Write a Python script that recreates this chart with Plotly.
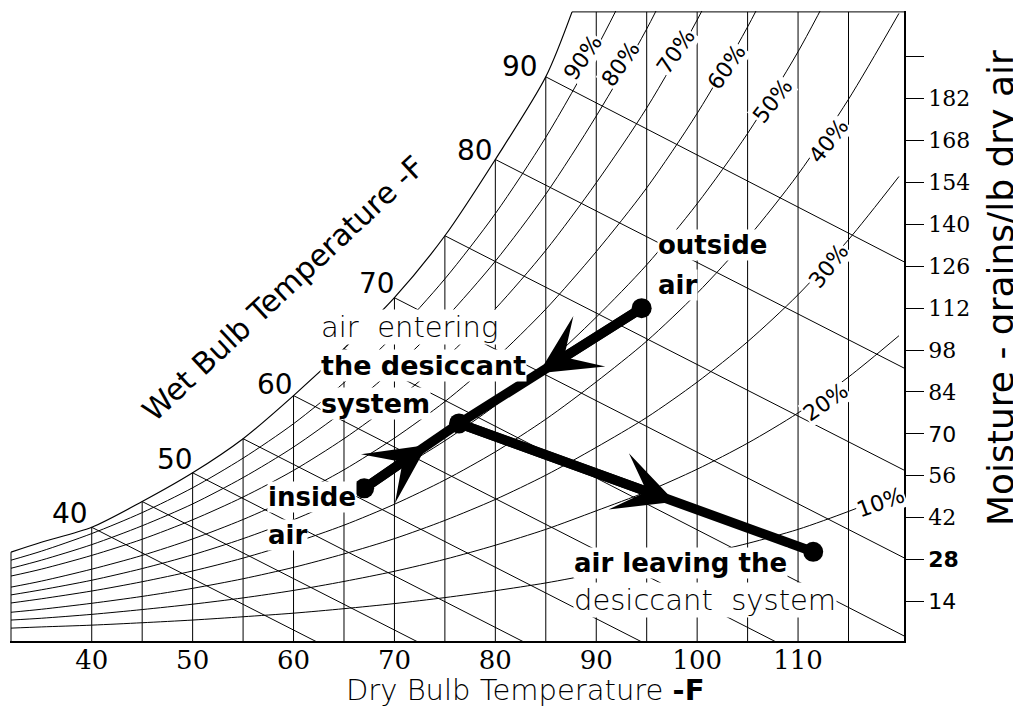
import plotly.graph_objects as go

# ---------------- data ----------------
# dry-bulb temperatures (F) at which the relative-humidity curves were read
DB_T = [32, 35, 40, 45, 50, 55, 60, 65, 70, 75, 80, 85, 90, 95, 100, 105, 110, 115, 120]

RH_LABELS = ["10%", "20%", "30%", "40%", "50%", "60%", "70%", "80%", "90%"]
RH_10 = [5.1, 5.5, 6.1, 6.9, 7.8, 8.9, 10.1, 11.6, 13.3, 15.3, 17.6, 20.2, 23.3, 26.1, 29.4, 33.4, 38.1, 44.1, 50.8]
RH_20 = [7.8, 8.4, 9.7, 11.3, 13.1, 15.2, 17.7, 20.7, 24.1, 28.1, 32.8, 38.1, 44.3, 50.7, 58.2, 66.9, 77.0, 89.0, 102.8]
RH_30 = [10.4, 11.4, 13.4, 15.7, 18.4, 21.6, 25.4, 29.9, 35.0, 41.1, 48.1, 56.2, 65.5, 75.5, 87.3, 100.8, 116.5, 134.9, 156.0]
RH_40 = [13.5, 14.9, 17.5, 20.6, 24.2, 28.5, 33.6, 39.5, 46.5, 54.6, 64.0, 74.9, 87.4, 101.0, 117.0, 135.4, 156.7, 181.8, 210.5]
RH_50 = [16.2, 17.9, 21.1, 25.0, 29.6, 35.0, 41.3, 48.8, 57.5, 67.7, 79.5, 93.2, 109.0, 126.5, 146.9, 170.4, 197.7, 229.6]
RH_60 = [18.8, 20.8, 24.8, 29.4, 34.9, 41.4, 49.0, 58.0, 68.6, 80.8, 95.1, 111.7, 130.9, 152.2, 177.1, 206.0, 239.4]
RH_70 = [22.5, 24.8, 29.4, 34.8, 41.3, 48.9, 57.8, 68.4, 80.7, 95.1, 111.8, 131.3, 153.9, 178.9, 208.3, 242.3]
RH_80 = [25.1, 27.8, 33.0, 39.3, 46.6, 55.4, 65.6, 77.7, 91.9, 108.4, 127.7, 150.1, 176.2, 205.3, 239.4]
RH_90 = [27.8, 30.8, 36.7, 43.7, 52.0, 61.9, 73.4, 87.1, 103.1, 121.8, 143.6, 169.1, 198.7, 231.9]
RH_SERIES = [RH_10, RH_20, RH_30, RH_40, RH_50, RH_60, RH_70, RH_80, RH_90]

# saturation (100%) curve
SAT_T = [32, 35, 40, 45, 50, 55, 60, 65, 70, 75, 80, 85, 87.6]
SAT_W = [30.5, 33.8, 38.8, 47.4, 57.0, 68.4, 82.8, 98.5, 115.5, 136.2, 161.7, 189.3, 211.0]

# wet-bulb lines: start on saturation, end on chart border
WB_T = [40, 45, 50, 55, 60, 65, 70, 75, 80, 85]
WB_START_W = [38.8, 47.4, 57.0, 68.4, 82.8, 98.5, 115.5, 136.2, 161.7, 189.3]
WB_END_T = [62.6, 72.6, 83.1, 94.8, 108.1, 120.5, 120.5, 120.5, 120.5, 120.5]
WB_END_W = [0.0, 0.0, 0.0, 0.0, 0.0, 2.5, 28.6, 57.9, 92.0, 127.5]
WB_LABELS = ["40", "50", "60", "70", "80", "90"]

# dry-bulb vertical lines and where they stop at the top
DB_LINE_T = [40, 45, 50, 55, 60, 65, 70, 75, 80, 85, 90, 95, 100, 105, 110, 115]
DB_LINE_TOP = [38.8, 47.4, 57.0, 68.4, 82.8, 98.5, 115.5, 136.2, 161.7, 189.3,
               211.0, 211.0, 211.0, 211.0, 211.0, 211.0]

# chart frame pieces not covered by the axes
LEFT_EDGE_T = [32, 32]
LEFT_EDGE_W = [0.0, 30.5]
TOP_EDGE_T = [87.6, 120.5]
TOP_EDGE_W = [211.0, 211.0]

# process states (dry bulb F, grains/lb)
STATE_NAMES = ["outside air", "entering desiccant", "inside air", "leaving desiccant"]
STATE_T = [94.5, 76.4, 67.0, 111.5]
STATE_W = [112.0, 73.5, 51.8, 30.6]
# arrow tips on the three process lines
ARROW_TIP_T = [84.3, 73.25, 97.8]
ARROW_TIP_W = [90.3, 66.3, 47.3]

X_TICKS = [40, 50, 60, 70, 80, 90, 100, 110]
Y_TICKS = [14, 28, 42, 56, 70, 84, 98, 112, 126, 140, 154, 168, 182, 196]
Y_TICK_TEXT = ["14", "28", "42", "56", "70", "84", "98", "112", "126", "140", "154", "168", "182", ""]

# ---------------- figure ----------------
PAGE_OFF = 8                      # default body margin of the html page
W_PX, H_PX = 1021 - PAGE_OFF, 713 - PAGE_OFF
ML, MR, MT, MB = 2, 117, 3, 72
PW, PH = W_PX - ML - MR, H_PX - MT - MB


def px(x):   # page pixel -> paper x
    return (x - PAGE_OFF - ML) / PW


def py(y):   # page pixel -> paper y
    return (PAGE_OFF + H_PX - MB - y) / PH


LINE = dict(color="black", width=1)
fig = go.Figure()

# relative humidity curves
for name, vals in zip(RH_LABELS, RH_SERIES):
    fig.add_trace(go.Scatter(x=DB_T[:len(vals)], y=vals, mode="lines", name=name,
                             line=dict(color="black", width=1, shape="spline", smoothing=0.8),
                             hoverinfo="skip", showlegend=False))

# saturation curve
fig.add_trace(go.Scatter(x=SAT_T, y=SAT_W, mode="lines", line=dict(color="black", width=1.2, shape="spline", smoothing=0.8),
                         hoverinfo="skip", showlegend=False))

# wet bulb lines
wx, wy = [], []
for t0, w0, t1, w1 in zip(WB_T, WB_START_W, WB_END_T, WB_END_W):
    wx += [t0, t1, None]
    wy += [w0, w1, None]
fig.add_trace(go.Scatter(x=wx, y=wy, mode="lines", line=LINE, hoverinfo="skip", showlegend=False))

# dry bulb verticals
vx, vy = [], []
for t, top in zip(DB_LINE_T, DB_LINE_TOP):
    vx += [t, t, None]
    vy += [0.0, top, None]
fig.add_trace(go.Scatter(x=vx, y=vy, mode="lines", line=LINE, hoverinfo="skip", showlegend=False))

# frame pieces
fig.add_trace(go.Scatter(x=LEFT_EDGE_T, y=LEFT_EDGE_W, mode="lines", line=LINE, hoverinfo="skip", showlegend=False))
fig.add_trace(go.Scatter(x=TOP_EDGE_T, y=TOP_EDGE_W, mode="lines", line=LINE, hoverinfo="skip", showlegend=False))

# process lines
seq_a = [0, 1, 3]
fig.add_trace(go.Scatter(x=[STATE_T[i] for i in seq_a], y=[STATE_W[i] for i in seq_a], mode="lines",
                         line=dict(color="black", width=9.5), hoverinfo="skip", showlegend=False))
seq_b = [2, 1]
fig.add_trace(go.Scatter(x=[STATE_T[i] for i in seq_b], y=[STATE_W[i] for i in seq_b], mode="lines",
                         line=dict(color="black", width=9.5), hoverinfo="skip", showlegend=False))
fig.add_trace(go.Scatter(x=STATE_T, y=STATE_W, mode="markers", text=STATE_NAMES,
                         marker=dict(color="black", size=20), hoverinfo="text", showlegend=False))

ann = []
SANS = "DejaVu Sans"


def label(text, x, y, size=29, angle=0, xanchor="center", yanchor="middle", bg="white",
          family=SANS, weight="normal"):
    ann.append(dict(text=text, x=px(x), y=py(y), xref="paper", yref="paper", showarrow=False,
                    textangle=angle, xanchor=xanchor, yanchor=yanchor,
                    font=dict(family=family, size=size, color="black", weight=weight),
                    bgcolor=bg, borderpad=0))


# wet bulb temperature labels
for txt, (x, y) in zip(WB_LABELS, [(70, 513), (175, 459), (275, 384), (377, 283), (475, 150), (520, 66)]):
    label(txt, x, y, size=28, bg=None)

# RH labels
rh_pos = [(880, 502, -20), (825, 402, -35), (828, 266, -52), (828, 141, -52), (772, 101, -52),
          (726, 67, -55), (676, 52, -55), (620, 64, -55), (583, 58, -55)]
for txt, (x, y, a) in zip(RH_LABELS, rh_pos):
    label(txt, x, y, size=22, angle=a)

# titles
label("Wet Bulb Temperature -F", 283, 288, size=30, angle=-43, bg=None)
label("Dry Bulb Temperature <b>-F</b>", 525, 690, size=29, bg=None, weight=300)
label("Moisture - grains/lb dry air", 1000, 288, size=36, angle=-90, bg=None)

# state annotations
label("outside", 657, 245, size=26, xanchor="left", weight="bold")
label("air", 657, 285, size=26, xanchor="left", weight="bold")
label("air  entering", 320, 327, xanchor="left", weight=200)
label("the desiccant", 320, 365, size=27, xanchor="left", weight="bold")
label("system", 320, 403, size=27, xanchor="left", weight="bold")
label("inside", 267, 497, size=26, xanchor="left", weight="bold")
label("air", 267, 535, size=26, xanchor="left", weight="bold")
label("air leaving the", 573, 563, size=26, xanchor="left", weight="bold")
label("desiccant  system", 573, 600, xanchor="left", weight=200)

# arrow heads on the process lines
tails = [0, 2, 1]
for k, tail in enumerate(tails):
    ann.append(dict(x=ARROW_TIP_T[k], y=ARROW_TIP_W[k], xref="x", yref="y",
                    ax=STATE_T[tail], ay=STATE_W[tail], axref="x", ayref="y",
                    text="", showarrow=True, arrowhead=3, arrowsize=1.05, arrowwidth=9.5,
                    arrowcolor="black"))

SERIF = "DejaVu Serif"
ytext = []
for t in Y_TICK_TEXT:
    if t in ("70", "14"):
        ytext.append('<span style="font-family:DejaVu Sans">' + t + "</span>")
    elif t == "28":
        ytext.append('<span style="font-family:DejaVu Sans"><b>' + t + "</b></span>")
    else:
        ytext.append(t)

fig.update_layout(
    width=W_PX, height=H_PX,
    margin=dict(l=ML, r=MR, t=MT, b=MB, pad=0),
    paper_bgcolor="white", plot_bgcolor="white",
    showlegend=False,
    annotations=ann,
    xaxis=dict(range=[31.9, 120.5], tickvals=X_TICKS, ticks="", showgrid=False, zeroline=False,
               showline=True, linecolor="black", linewidth=1.5,
               tickfont=dict(family=SERIF, size=26, color="black"), ticklabelstandoff=-5),
    yaxis=dict(range=[0.8, 211.3], side="right", tickvals=Y_TICKS, ticktext=ytext, ticks="outside",
               ticklen=18, tickwidth=1, tickcolor="black", showgrid=False, zeroline=False,
               showline=True, linecolor="black", linewidth=1.5,
               tickfont=dict(family=SERIF, size=22, color="black")),
)

fig.write_html("out.html")
